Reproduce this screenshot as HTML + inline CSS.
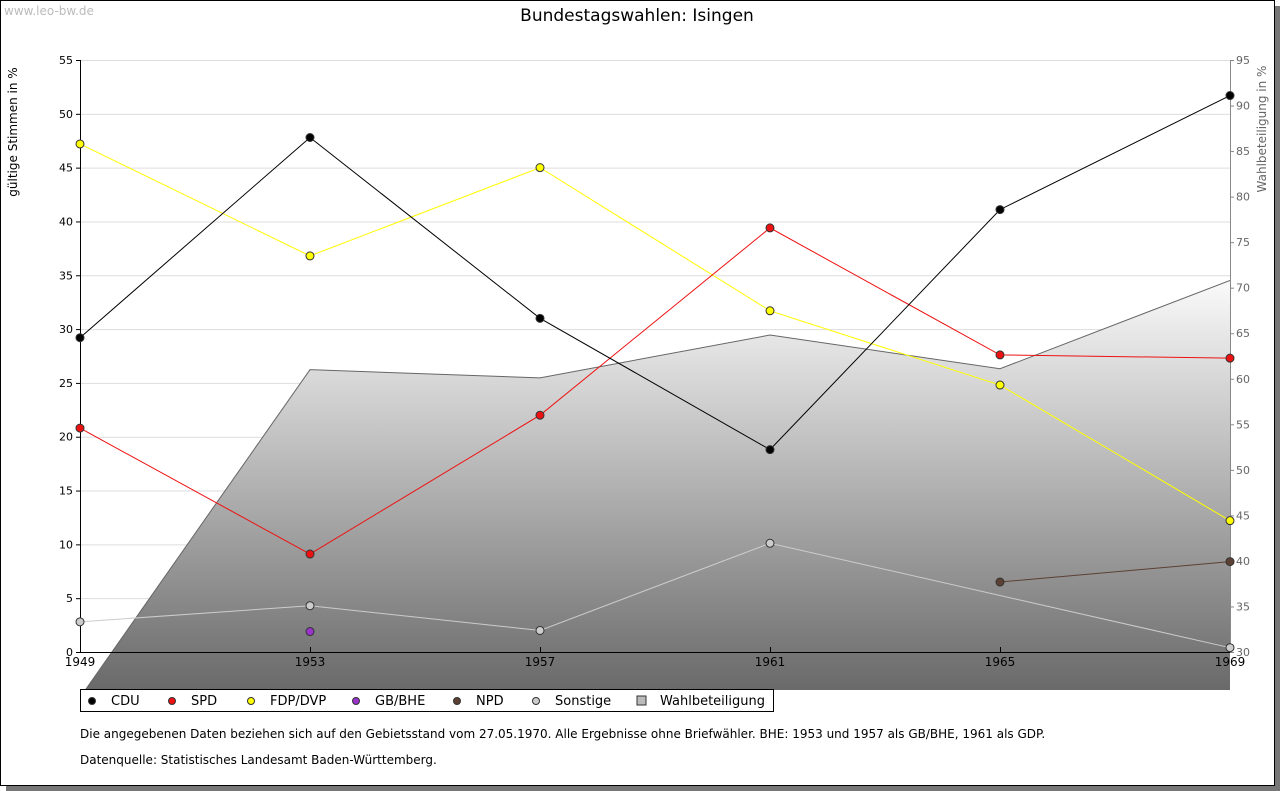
<!DOCTYPE html>
<html><head><meta charset="utf-8">
<style>
body{margin:0;background:#fff;font-family:"DejaVu Sans","Liberation Sans",sans-serif;}
#wrap{position:relative;width:1280px;height:791px;overflow:hidden;}
</style></head>
<body>
<div id="wrap">
<svg id="chart" width="1280" height="791" xmlns="http://www.w3.org/2000/svg">
<defs>
<linearGradient id="grad" x1="0" y1="0" x2="0" y2="1">
<stop offset="0" stop-color="#fafafa"/><stop offset="1" stop-color="#666"/>
</linearGradient>
<clipPath id="clipArea"><rect x="80" y="0" width="1150" height="690"/></clipPath>
</defs>
<rect x="6" y="785" width="1274" height="6" fill="#777"/>
<rect x="1275" y="6" width="5" height="785" fill="#777"/>
<rect x="0.5" y="0.5" width="1274" height="785" fill="#fff" stroke="#000"/>
<text x="4" y="15" font-size="12" fill="#bbb">www.leo-bw.de</text>
<text x="637" y="21" font-size="17" text-anchor="middle">Bundestagswahlen: Isingen</text>
<text transform="translate(17,132) rotate(-90)" x="0" y="0" font-size="12" text-anchor="middle" fill="#000">gültige Stimmen in %</text>
<text transform="translate(1266,129) rotate(-90)" font-size="12" text-anchor="middle" fill="#666">Wahlbeteiligung in %</text>
<g id="g"></g>
<g>
<rect x="80.5" y="689.5" width="693" height="22" fill="#fff" stroke="#000"/>
<g id="leg"></g>
</g>
<text x="80" y="738" font-size="12">Die angegebenen Daten beziehen sich auf den Gebietsstand vom 27.05.1970. Alle Ergebnisse ohne Briefwähler. BHE: 1953 und 1957 als GB/BHE, 1961 als GDP.</text>
<text x="80" y="764" font-size="12">Datenquelle: Statistisches Landesamt Baden-Württemberg.</text>
</svg>
</div>
<script>
const years=[1949,1953,1957,1961,1965,1969];
const leftTicks=[0,5,10,15,20,25,30,35,40,45,50,55];
const rightTicks=[30,35,40,45,50,55,60,65,70,75,80,85,90,95];
const turnout=[25,61.0,60.1,64.8,61.1,70.8];
const cdu=[29.2,47.8,31.0,18.8,41.1,51.7];
const spd=[20.8,9.1,22.0,39.4,27.6,27.3];
const fdp=[47.2,36.8,45.0,31.7,24.8,12.2];
const gbbhe=[null,1.9,null,null,null,null];
const npd=[null,null,null,null,6.5,8.4];
const sonstige=[2.8,4.3,2.0,10.1,null,0.4];
const NS="http://www.w3.org/2000/svg";
const X0=80,X1=1230,Y0=652,Y1=60;
const x=i=>X0+(years[i]-years[0])/(years[5]-years[0])*(X1-X0);
const yl=v=>Y0-v/55*(Y0-Y1);
const yr=v=>Y0-(v-30)/65*(Y0-Y1);
const g=document.getElementById('g');
function mk(t,a,p){const e=document.createElementNS(NS,t);for(const k in a)e.setAttribute(k,a[k]);(p||g).appendChild(e);return e;}
leftTicks.forEach(v=>{
 if(v>0){const l=mk('line',{x1:X0,x2:X1,y1:yl(v)+.5,y2:yl(v)+.5,stroke:'#ddd'});
 
 }
 const t=mk('text',{x:73,y:yl(v)+4,'font-size':11,'text-anchor':'end'});t.textContent=v;
 
 
 mk('line',{x1:X0-4,x2:X0,y1:yl(v)+.5,y2:yl(v)+.5,stroke:'#000'});
});
rightTicks.forEach(v=>{
 const t=mk('text',{x:1236,y:yr(v)+4,'font-size':11,fill:'#666'});t.textContent=v;
 
 
 mk('line',{x1:X1,x2:X1+4,y1:yr(v)+.5,y2:yr(v)+.5,stroke:'#888'});
});
let pts=years.map((_,i)=>x(i)+','+yr(turnout[i])).join(' ');
const area=mk('polygon',{points:pts+' '+X1+',700 '+X0+',700',fill:'url(#grad)','clip-path':'url(#clipArea)'});


const al=mk('polyline',{points:pts,fill:'none',stroke:'#666','clip-path':'url(#clipArea)'});


mk('line',{x1:X0+.5,x2:X0+.5,y1:Y1,y2:Y0,stroke:'#000'});
mk('line',{x1:X1+.5,x2:X1+.5,y1:Y1,y2:Y0,stroke:'#888'});
mk('line',{x1:X0,x2:X1,y1:Y0+.5,y2:Y0+.5,stroke:'#000'});
years.forEach((yv,i)=>{
 mk('line',{x1:x(i)+.5,x2:x(i)+.5,y1:Y0-5,y2:Y0,stroke:'#000'});
 const t=mk('text',{x:x(i),y:666,'font-size':12,'text-anchor':'middle'});t.textContent=yv;
 
 
});
function series(vals,color,name,lineColor){
 let segs=[],cur=[];
 vals.forEach((v,i)=>{if(v==null){if(cur.length)segs.push(cur);cur=[];}else cur.push(x(i)+','+yl(v));});
 if(cur.length)segs.push(cur);
 segs.forEach(s=>{if(s.length>1){const l=mk('polyline',{points:s.join(' '),fill:'none',stroke:lineColor||color});
 
 }});
 vals.forEach((v,i)=>{if(v==null)return;
 const c=mk('circle',{cx:x(i),cy:yl(v),r:4,fill:color,stroke:'#333'});
 
 });
}
(function(){const p=[];sonstige.forEach((v,i)=>{if(v!=null)p.push(x(i)+','+yl(v));});
 const l=mk('polyline',{points:p.join(' '),fill:'none',stroke:'#ccc'});
 
 })();
series(sonstige,'#ccc','sonstige','none');
series(npd,'#5c4033','npd');
series(gbbhe,'#9933cc','gbbhe');
series(fdp,'#ffff00','fdp','#ffff00');
series(spd,'#ee1111','spd');
series(cdu,'#000','cdu');
const leg=document.getElementById('leg');
const items=[['CDU','#000',92],['SPD','#ee1111',172],['FDP/DVP','#ffff00',251],['GB/BHE','#9933cc',356],['NPD','#5c4033',457],['Sonstige','#ccc',536],['Wahlbeteiligung','#bbb',641]];
items.forEach(it=>{
 if(it[0]==='Wahlbeteiligung')mk('rect',{x:it[2]-4,y:696,width:9,height:9,fill:it[1],stroke:'#333'},leg);
 else mk('circle',{cx:it[2],cy:701,r:3.5,fill:it[1],stroke:'#333'},leg);
 const t=mk('text',{x:it[2]+19,y:705,'font-size':13},leg);t.textContent=it[0];
 
 
});
</script>
</body></html>
